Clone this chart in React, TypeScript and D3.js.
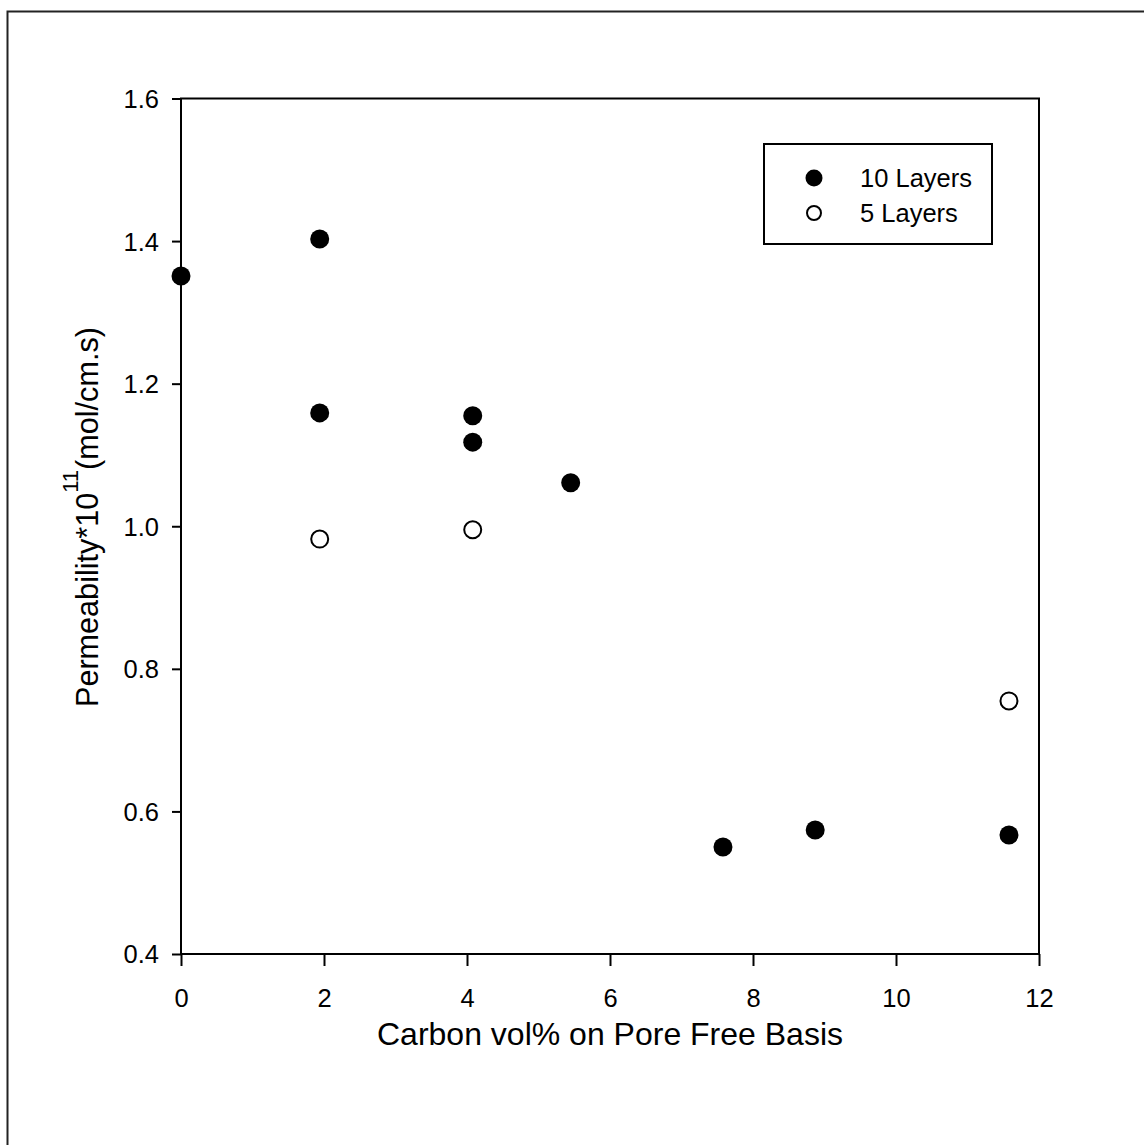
import { useEffect, useRef } from "react"
import * as d3 from "d3"

// 10-layer samples (filled circles)
const tenLayerCarbon = [0, 1.94, 1.94, 4.08, 4.08, 5.45, 7.58, 8.87, 11.58]
const tenLayerPerm = [1.351, 1.403, 1.159, 1.155, 1.118, 1.061, 0.55, 0.574, 0.567]

// 5-layer samples (open circles)
const fiveLayerCarbon = [1.94, 4.08, 11.58]
const fiveLayerPerm = [0.982, 0.995, 0.755]

const xTicks = [0, 2, 4, 6, 8, 10, 12]
const yTicks = [0.4, 0.6, 0.8, 1.0, 1.2, 1.4, 1.6]

const legendItems = [
  { label: "10 Layers", filled: true },
  { label: "5 Layers", filled: false },
]

const FONT = "'Liberation Sans', Arial, Helvetica, sans-serif"

export default function App() {
  const svgRef = useRef<SVGSVGElement>(null)

  useEffect(() => {
    if (!svgRef.current) return
    const svg = d3.select(svgRef.current)
    svg.selectAll("*").remove()

    const width = 1144
    const height = 1145
    const left = 181
    const right = 1039
    const top = 98.5
    const bottom = 954

    svg.attr("width", width).attr("height", height)

    // outer frame (runs off the page right/bottom)
    svg.append("rect")
      .attr("x", 7.5)
      .attr("y", 11.5)
      .attr("width", 1300)
      .attr("height", 1300)
      .style("fill", "none")
      .style("stroke", "#222")
      .style("stroke-width", 2)

    const x = d3.scaleLinear().domain([0, 12]).range([left, right])
    const y = d3.scaleLinear().domain([0.4, 1.6]).range([bottom, top])

    // x axis
    const xAxis = svg.append("g")
      .attr("transform", `translate(0, ${bottom})`)
      .call(d3.axisBottom(x).tickValues(xTicks).tickSize(12).tickSizeOuter(0).tickPadding(23).tickFormat(d3.format("d")))
    xAxis.select(".domain").remove()
    xAxis.selectAll("line").style("stroke", "#000").style("stroke-width", 2)
    xAxis.selectAll("text").style("font-family", FONT).style("font-size", "25.5px").style("fill", "#000")

    // y axis
    const yAxis = svg.append("g")
      .attr("transform", `translate(${left}, 0)`)
      .call(d3.axisLeft(y).tickValues(yTicks).tickSize(9).tickSizeOuter(0).tickPadding(13).tickFormat(d3.format(".1f")))
    yAxis.select(".domain").remove()
    yAxis.selectAll("line").style("stroke", "#000").style("stroke-width", 2)
    yAxis.selectAll("text").attr("dy", "0.35em").style("font-family", FONT).style("font-size", "25.5px").style("fill", "#000")

    // plot frame
    svg.append("rect")
      .attr("x", left)
      .attr("y", top)
      .attr("width", right - left)
      .attr("height", bottom - top)
      .style("fill", "none")
      .style("stroke", "#000")
      .style("stroke-width", 2)

    // axis titles
    svg.append("text")
      .attr("x", (left + right) / 2)
      .attr("y", 1045)
      .attr("text-anchor", "middle")
      .style("font-family", FONT)
      .style("font-size", "32px")
      .text("Carbon vol% on Pore Free Basis")

    const yTitle = svg.append("text")
      .attr("transform", `translate(98, 707) rotate(-90)`)
      .attr("text-anchor", "start")
      .style("font-family", FONT)
      .style("font-size", "30.6px")
    yTitle.append("tspan").text("Permeability*10")
    yTitle.append("tspan").attr("dy", -20).style("font-size", "22px").text("11")
    yTitle.append("tspan").attr("dy", 20).text("(mol/cm.s)")

    // data points
    const g = svg.append("g")
    tenLayerCarbon.forEach((c, i) => {
      g.append("circle")
        .attr("cx", x(c))
        .attr("cy", y(tenLayerPerm[i]))
        .attr("r", 9.5)
        .style("fill", "#000")
    })
    fiveLayerCarbon.forEach((c, i) => {
      g.append("circle")
        .attr("cx", x(c))
        .attr("cy", y(fiveLayerPerm[i]))
        .attr("r", 8.5)
        .style("fill", "#fff")
        .style("stroke", "#000")
        .style("stroke-width", 2)
    })

    // legend
    const lg = svg.append("g")
    lg.append("rect")
      .attr("x", 764)
      .attr("y", 144)
      .attr("width", 228)
      .attr("height", 100)
      .style("fill", "#fff")
      .style("stroke", "#000")
      .style("stroke-width", 2)
    legendItems.forEach((item, i) => {
      const cy = 178 + i * 35
      lg.append("circle")
        .attr("cx", 814)
        .attr("cy", cy)
        .attr("r", item.filled ? 8.5 : 7)
        .style("fill", item.filled ? "#000" : "#fff")
        .style("stroke", "#000")
        .style("stroke-width", item.filled ? 0 : 2)
      lg.append("text")
        .attr("x", 860)
        .attr("y", cy + 9)
        .style("font-family", FONT)
        .style("font-size", "25.5px")
        .text(item.label)
    })
  }, [])

  return (
    <div style={{ position: "absolute", left: 0, top: 0, background: "#fff" }}>
      <svg ref={svgRef} style={{ display: "block", overflow: "hidden" }} />
    </div>
  )
}
